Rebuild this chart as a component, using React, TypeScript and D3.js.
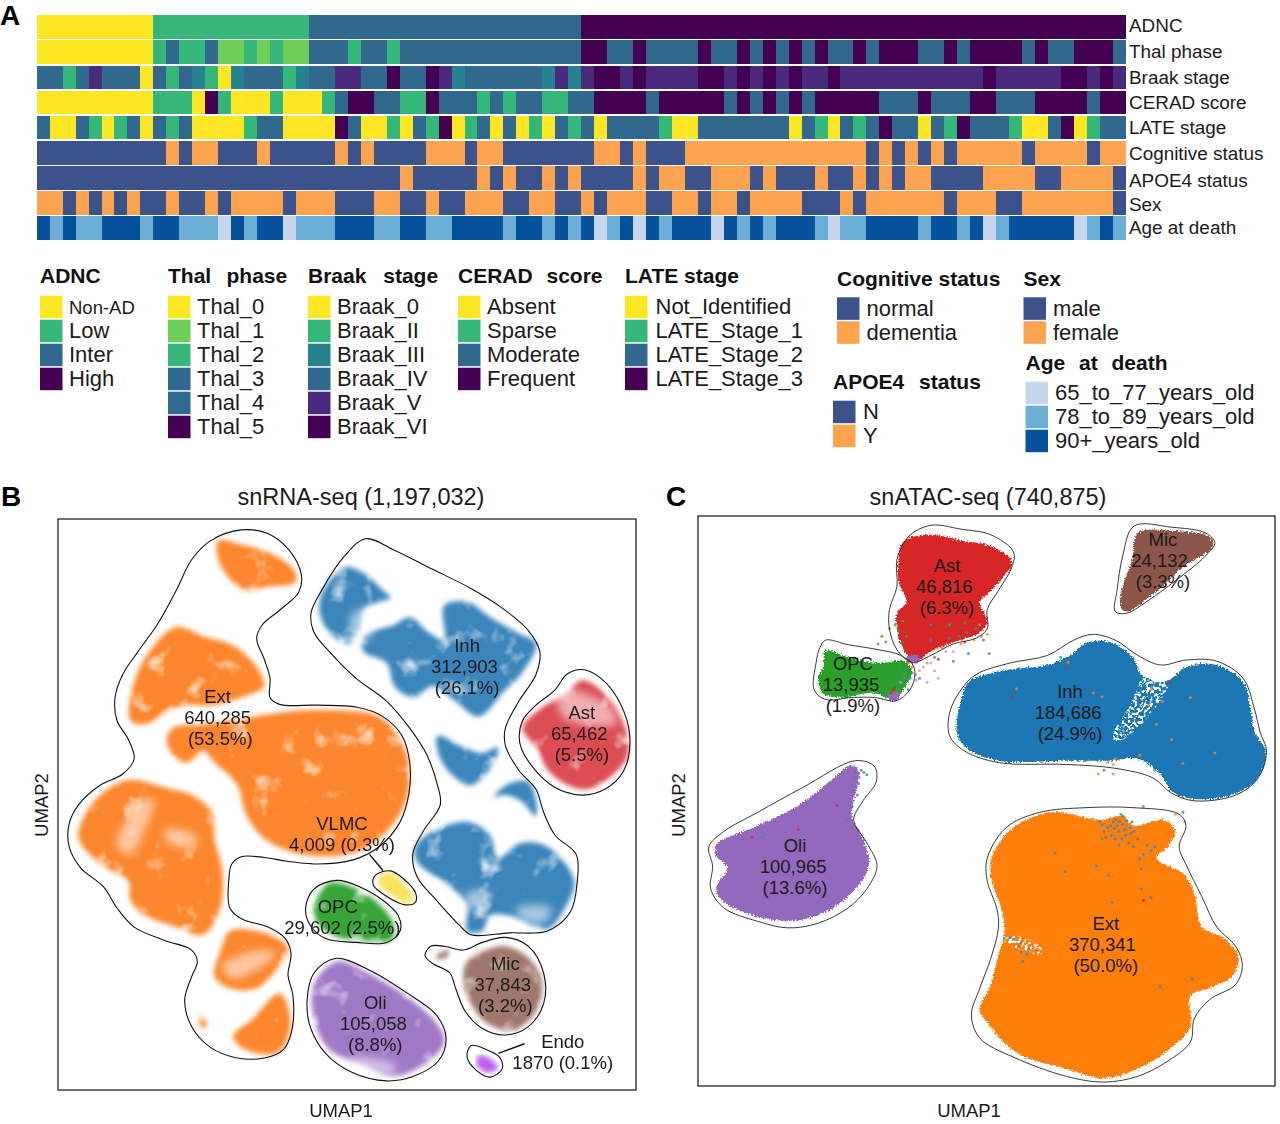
import React from 'react'
import * as d3 from 'd3'

// ---- panel A data: run lengths [level, columns], 84 donors per row
const rowNames = ['ADNC', 'Thal phase', 'Braak stage', 'CERAD score', 'LATE stage', 'Cognitive status', 'APOE4 status', 'Sex', 'Age at death']

const adncRuns = [[0, 9], [1, 12], [2, 21], [3, 42]]
const thalRuns = [[0, 9], [2, 1], [3, 1], [2, 2], [3, 1], [1, 2], [2, 1], [1, 1], [2, 1], [1, 2], [3, 3], [2, 1], [3, 2], [2, 1], [3, 14], [5, 2], [3, 2], [5, 1], [3, 4], [5, 1], [3, 2], [5, 1], [3, 1], [5, 1], [3, 1], [5, 1], [3, 1], [5, 1], [3, 2], [5, 1], [3, 1], [5, 3], [3, 2], [5, 1], [3, 1], [5, 4], [3, 1], [5, 1], [3, 2], [5, 3], [3, 1]]
const braakRuns = [[3, 2], [1, 1], [3, 1], [4, 1], [3, 3], [0, 1], [3, 1], [1, 1], [3, 1], [2, 1], [1, 1], [0, 1], [2, 1], [3, 3], [1, 1], [2, 1], [3, 2], [4, 2], [3, 2], [5, 1], [3, 2], [5, 1], [4, 1], [2, 1], [3, 6], [2, 1], [4, 1], [2, 1], [4, 1], [5, 2], [4, 1], [5, 1], [4, 4], [5, 2], [4, 1], [5, 1], [4, 1], [5, 1], [4, 1], [5, 1], [4, 2], [5, 1], [4, 11], [5, 1], [4, 5], [5, 2], [4, 1], [5, 1], [4, 1]]
const ceradRuns = [[0, 9], [1, 3], [0, 1], [3, 1], [1, 1], [0, 3], [1, 1], [0, 3], [1, 1], [2, 1], [3, 2], [2, 2], [1, 2], [3, 1], [2, 3], [1, 1], [2, 1], [1, 1], [2, 2], [1, 2], [2, 2], [3, 4], [2, 1], [3, 5], [2, 1], [3, 1], [2, 1], [3, 1], [2, 1], [3, 1], [2, 1], [3, 5], [2, 3], [3, 1], [2, 3], [3, 2], [2, 3], [3, 4], [2, 1], [3, 2]]
const lateRuns = [[2, 1], [0, 2], [2, 1], [1, 1], [0, 1], [1, 1], [2, 1], [0, 1], [2, 1], [1, 1], [2, 1], [0, 4], [1, 1], [2, 2], [0, 4], [3, 1], [2, 1], [0, 2], [1, 1], [0, 1], [2, 1], [1, 1], [3, 1], [0, 1], [1, 1], [2, 1], [0, 1], [2, 1], [0, 1], [1, 1], [0, 1], [2, 1], [1, 1], [2, 1], [0, 1], [2, 4], [1, 1], [0, 2], [2, 7], [0, 1], [2, 1], [1, 1], [0, 1], [2, 1], [1, 1], [2, 1], [3, 1], [2, 2], [0, 1], [2, 1], [1, 1], [3, 1], [2, 3], [1, 1], [0, 2], [2, 1], [3, 1], [0, 1], [1, 1], [2, 2]]
const cognitiveRuns = [[0, 10], [1, 1], [0, 1], [1, 2], [0, 3], [1, 1], [0, 5], [1, 1], [0, 1], [1, 1], [0, 4], [1, 3], [0, 1], [1, 2], [0, 7], [1, 2], [0, 1], [1, 1], [0, 3], [1, 14], [0, 1], [1, 1], [0, 1], [1, 1], [0, 1], [1, 1], [0, 1], [1, 5], [0, 1], [1, 4], [0, 1], [1, 2]]
const apoeRuns = [[0, 28], [1, 1], [0, 5], [1, 1], [0, 1], [1, 1], [0, 2], [1, 1], [0, 1], [1, 1], [0, 4], [1, 1], [0, 1], [1, 2], [0, 2], [1, 3], [0, 1], [1, 1], [0, 3], [1, 1], [0, 2], [1, 1], [0, 1], [1, 1], [0, 1], [1, 2], [0, 4], [1, 4], [0, 2], [1, 4], [0, 1]]
const sexRuns = [[1, 2], [0, 1], [1, 1], [0, 1], [1, 1], [0, 1], [1, 1], [0, 2], [1, 1], [0, 2], [1, 1], [0, 1], [1, 4], [0, 1], [1, 3], [0, 3], [1, 2], [0, 2], [1, 1], [0, 2], [1, 3], [0, 2], [1, 2], [0, 2], [1, 1], [0, 1], [1, 3], [0, 2], [1, 2], [0, 1], [1, 2], [0, 1], [1, 4], [0, 3], [1, 1], [0, 1], [1, 6], [0, 1], [1, 3], [0, 2], [1, 7], [0, 1]]
const ageRuns = [[2, 1], [1, 1], [2, 1], [1, 2], [2, 3], [1, 1], [2, 2], [1, 3], [0, 1], [2, 1], [1, 1], [2, 2], [0, 1], [1, 3], [2, 3], [1, 2], [2, 2], [1, 2], [2, 4], [1, 1], [2, 2], [1, 1], [2, 1], [1, 1], [2, 1], [0, 1], [1, 1], [2, 1], [0, 1], [2, 1], [1, 1], [2, 3], [0, 1], [2, 1], [1, 1], [2, 1], [1, 1], [2, 3], [1, 1], [0, 1], [1, 2], [2, 4], [1, 1], [2, 2], [1, 1], [2, 1], [0, 1], [1, 1], [2, 5], [0, 1], [1, 1], [2, 1], [1, 1]]

// ---- palettes
const YEL = '#fde725', GRN = '#35b779', BLU = '#31688e', DRK = '#440154', NAVY = '#3b528b', ORG = '#fea34f'
const adncColors = [YEL, GRN, BLU, DRK]
const thalColors = [YEL, '#6ece58', GRN, BLU, '#2f6b8e', DRK]
const braakColors = [YEL, GRN, '#26828e', BLU, '#4a2a7c', DRK]
const binaryColors = [NAVY, ORG]
const ageColors = ['#c6d6ee', '#6baed6', '#08519c']

const rowRuns = [adncRuns, thalRuns, braakRuns, ceradRuns, lateRuns, cognitiveRuns, apoeRuns, sexRuns, ageRuns]
const rowColors = [adncColors, thalColors, braakColors, adncColors, adncColors, binaryColors, binaryColors, binaryColors, ageColors]
const rowLabelNudge = [-1.5, -1, 0, 0, 0, 1, 2.5, 1.5, -0.5]

// ---- legends
const adncLabels = ['Non-AD', 'Low', 'Inter', 'High']
const thalLabels = ['Thal_0', 'Thal_1', 'Thal_2', 'Thal_3', 'Thal_4', 'Thal_5']
const braakLabels = ['Braak_0', 'Braak_II', 'Braak_III', 'Braak_IV', 'Braak_V', 'Braak_VI']
const ceradLabels = ['Absent', 'Sparse', 'Moderate', 'Frequent']
const lateLabels = ['Not_Identified', 'LATE_Stage_1', 'LATE_Stage_2', 'LATE_Stage_3']
const cognitiveLabels = ['normal', 'dementia']
const sexLabels = ['male', 'female']
const apoeLabels = ['N', 'Y']
const ageLabels = ['65_to_77_years_old', '78_to_89_years_old', '90+_years_old']

const legends = [
  { title: 'ADNC', labels: adncLabels, colors: adncColors, x: 40, tx: 69, ty: 283, top: 295.7, ws: 0 },
  { title: 'Thal phase', labels: thalLabels, colors: thalColors, x: 168, tx: 197, ty: 283, top: 295.7, ws: 9.5 },
  { title: 'Braak stage', labels: braakLabels, colors: braakColors, x: 308, tx: 337, ty: 283, top: 295.7, ws: 11 },
  { title: 'CERAD score', labels: ceradLabels, colors: adncColors, x: 458, tx: 487, ty: 283, top: 295.7, ws: 8 },
  { title: 'LATE stage', labels: lateLabels, colors: adncColors, x: 625, tx: 655.5, ty: 283, top: 295.7, ws: 0 },
  { title: 'Cognitive status', labels: cognitiveLabels, colors: binaryColors, x: 837, tx: 866.5, ty: 285.5, top: 297.3, ws: 0 },
  { title: 'Sex', labels: sexLabels, colors: binaryColors, x: 1023.5, tx: 1053, ty: 285.5, top: 297.3, ws: 0 },
  { title: 'APOE4 status', labels: apoeLabels, colors: binaryColors, x: 833, tx: 863, ty: 389, top: 400.7, ws: 9 },
  { title: 'Age at death', labels: ageLabels, colors: ageColors, x: 1025.5, tx: 1055, ty: 370, top: 381.7, ws: 8 },
]

// ---- panel B, snRNA-seq: outlines and density areas in UMAP units
const extOutlineB = [[500, 52], [570, 62], [625, 105], [657, 170], [650, 215], [600, 262], [555, 300], [540, 335], [560, 390], [575, 440], [575, 490], [600, 508], [700, 510], [800, 515], [870, 540], [920, 590], [940, 660], [938, 740], [915, 815], [860, 880], [790, 915], [700, 925], [620, 918], [560, 908], [500, 906], [475, 925], [467, 970], [470, 1040], [500, 1068], [570, 1090], [615, 1120], [630, 1160], [622, 1215], [635, 1270], [632, 1360], [610, 1410], [560, 1432], [490, 1432], [420, 1405], [370, 1350], [352, 1280], [370, 1220], [385, 1180], [370, 1150], [300, 1125], [220, 1090], [175, 1040], [140, 985], [80, 935], [50, 880], [50, 820], [75, 770], [130, 720], [190, 690], [220, 650], [205, 600], [175, 550], [170, 490], [190, 430], [230, 370], [280, 300], [330, 210], [370, 130], [420, 80]]
const inhOutlineB = [[825, 75], [900, 105], [1000, 155], [1100, 205], [1180, 255], [1250, 315], [1280, 370], [1270, 430], [1225, 500], [1190, 570], [1190, 615], [1225, 680], [1270, 730], [1290, 790], [1320, 850], [1375, 900], [1378, 970], [1360, 1050], [1300, 1100], [1200, 1105], [1100, 1110], [1070, 1085], [1010, 1020], [960, 960], [948, 900], [975, 840], [1020, 770], [1010, 710], [985, 640], [940, 570], [880, 500], [800, 440], [730, 370], [690, 320], [682, 270], [710, 210], [770, 120]]
const astOutlineB = [[1390, 417], [1440, 440], [1490, 505], [1515, 590], [1500, 680], [1450, 730], [1390, 745], [1320, 725], [1260, 670], [1228, 610], [1235, 550], [1270, 510], [1320, 470], [1350, 430]]
const vlmcOutlineB = [[890, 943], [925, 965], [955, 1000], [955, 1025], [930, 1032], [880, 1010], [845, 980], [850, 955]]
const opcOutlineB = [[750, 968], [810, 985], [870, 1020], [910, 1060], [915, 1100], [880, 1130], [800, 1130], [720, 1120], [680, 1085], [668, 1040], [690, 990]]
const oliOutlineB = [[745, 1172], [830, 1200], [930, 1260], [1010, 1320], [1035, 1380], [1015, 1440], [950, 1480], [880, 1492], [790, 1470], [720, 1420], [680, 1350], [672, 1280], [690, 1210]]
const micOutlineB = [[1190, 1117], [1250, 1140], [1290, 1210], [1290, 1290], [1250, 1350], [1190, 1372], [1130, 1355], [1085, 1310], [1060, 1250], [1045, 1210], [1000, 1185], [980, 1165], [995, 1140], [1030, 1140], [1080, 1150], [1130, 1130]]
const endoOutlineB = [[1100, 1400], [1140, 1410], [1175, 1430], [1182, 1460], [1150, 1482], [1115, 1465], [1090, 1430]]

const extAreasB = [
  [[440, 80], [500, 90], [580, 115], [640, 160], [640, 190], [570, 200], [510, 212], [470, 180], [440, 130]],
  [[330, 305], [400, 330], [480, 355], [540, 410], [560, 460], [500, 490], [420, 510], [350, 510], [300, 530], [250, 560], [210, 550], [220, 450], [260, 370]],
  [[320, 570], [400, 560], [530, 540], [640, 525], [780, 525], [860, 540], [915, 600], [940, 680], [930, 760], [890, 830], [810, 890], [720, 905], [620, 890], [550, 850], [510, 790], [490, 720], [430, 660], [400, 630], [360, 660], [330, 650], [305, 605]],
  [[210, 705], [300, 725], [370, 745], [425, 790], [430, 860], [450, 940], [445, 1040], [400, 1110], [330, 1090], [250, 1060], [210, 1020], [205, 970], [140, 930], [75, 860], [95, 790], [150, 730]],
  [[470, 1100], [560, 1105], [622, 1145], [600, 1190], [540, 1250], [470, 1250], [430, 1220], [450, 1140]],
  [[600, 1262], [625, 1310], [622, 1380], [590, 1420], [510, 1410], [478, 1375], [530, 1330]],
  [[395, 1320], [410, 1345], [400, 1355], [390, 1335]],
]
const inhAreasB = [
  [[770, 150], [820, 165], [870, 210], [890, 230], [860, 240], [820, 260], [810, 310], [780, 350], [730, 320], [705, 270], [710, 220]],
  [[820, 330], [900, 300], [940, 280], [990, 320], [1030, 340], [1030, 250], [1090, 240], [1150, 280], [1220, 320], [1270, 350], [1230, 430], [1190, 470], [1120, 540], [1060, 500], [1000, 460], [950, 490], [900, 460], [880, 400], [820, 370]],
  [[1012, 590], [1080, 620], [1130, 635], [1170, 620], [1160, 660], [1100, 720], [1060, 700], [1020, 650]],
  [[1160, 750], [1200, 715], [1250, 710], [1270, 760], [1270, 800], [1230, 760], [1190, 745]],
  [[1000, 840], [1090, 815], [1150, 850], [1170, 910], [1230, 870], [1300, 880], [1370, 970], [1340, 1050], [1300, 1095], [1200, 1060], [1150, 1060], [1130, 1100], [1090, 1100], [1090, 1030], [1040, 980], [960, 920], [955, 880]],
]
const astAreasB = [[[1390, 445], [1450, 480], [1500, 560], [1510, 640], [1450, 710], [1390, 730], [1310, 690], [1270, 620], [1235, 570], [1280, 520], [1350, 480]]]
const vlmcAreasB = [[[885, 945], [920, 970], [950, 1010], [940, 1030], [890, 1005], [860, 980], [860, 960]]]
const opcAreasB = [[[730, 975], [800, 990], [870, 1040], [900, 1090], [890, 1125], [820, 1125], [750, 1115], [700, 1080], [690, 1040]]]
const oliAreasB = [[[750, 1180], [830, 1210], [930, 1270], [1010, 1340], [1030, 1390], [990, 1440], [900, 1480], [820, 1450], [730, 1410], [690, 1330], [690, 1240]]]
const micAreasB = [[[1190, 1140], [1250, 1170], [1285, 1230], [1270, 1310], [1210, 1360], [1140, 1340], [1100, 1290], [1080, 1230], [1090, 1180], [1140, 1150]], [[1010, 1165], [1040, 1150], [1040, 1165], [1015, 1175]]]
const endoAreasB = [[[1120, 1425], [1160, 1440], [1170, 1460], [1140, 1470], [1115, 1450]]]

// pale streaks inside the density areas
const palePatchesB = [
  [[235, 760], [270, 755], [250, 830], [210, 900], [175, 880], [205, 800]],
  [[300, 835], [380, 850], [380, 880], [310, 870]],
  [[450, 1190], [560, 1150], [590, 1160], [480, 1225]],
  [[1330, 470], [1460, 510], [1480, 560], [1340, 540]],
  [[790, 270], [850, 260], [830, 340], [790, 340]],
  [[1090, 1000], [1150, 1000], [1130, 1040], [1090, 1040]],
  [[1220, 1040], [1310, 1040], [1290, 1080], [1230, 1070]],
  [[780, 1430], [900, 1450], [900, 1475], [800, 1450]],
]

const groupsB = [
  { areas: extAreasB, outline: extOutlineB, color: '#fb8022', opacity: 0.95 },
  { areas: inhAreasB, outline: inhOutlineB, color: '#2b7bb5', opacity: 0.92 },
  { areas: astAreasB, outline: astOutlineB, color: '#d8343c', opacity: 0.88 },
  { areas: vlmcAreasB, outline: vlmcOutlineB, color: '#f9e04e', opacity: 0.9 },
  { areas: opcAreasB, outline: opcOutlineB, color: '#2ca02c', opacity: 0.95 },
  { areas: oliAreasB, outline: oliOutlineB, color: '#9467bd', opacity: 0.88 },
  { areas: micAreasB, outline: micOutlineB, color: '#8c5a4c', opacity: 0.82 },
  { areas: endoAreasB, outline: endoOutlineB, color: '#bb55ee', opacity: 0.95 },
]

const labelsB = [
  { lines: ['Ext', '640,285', '(53.5%)'], x: [438, 438, 445], y: 505 },
  { lines: ['Inh', '312,903', '(26.1%)'], x: [1090, 1083, 1090], y: 372 },
  { lines: ['Ast', '65,462', '(5.5%)'], x: [1390, 1383, 1390], y: 545 },
  { lines: ['VLMC', '4,009 (0.3%)'], x: [763, 763], y: 835 },
  { lines: ['OPC', '29,602 (2.5%)'], x: [752, 764], y: 1052 },
  { lines: ['Mic', '37,843', '(3.2%)'], x: [1190, 1183, 1190], y: 1202 },
  { lines: ['Oli', '105,058', '(8.8%)'], x: [850, 845, 850], y: 1305 },
  { lines: ['Endo', '1870 (0.1%)'], x: [1340, 1340], y: 1405 },
]
const leadersB = [[[835, 900], [870, 942]], [[1172, 1420], [1240, 1395]]]

// ---- panel C, snATAC-seq
const astOutlineC = [[640, 40], [720, 50], [800, 65], [860, 110], [855, 150], [820, 210], [790, 260], [790, 310], [760, 335], [700, 350], [640, 380], [590, 398], [550, 365], [530, 310], [530, 260], [550, 200], [550, 130], [580, 70]]
const opcOutlineC = [[360, 340], [420, 352], [500, 365], [560, 380], [595, 410], [590, 460], [550, 498], [490, 490], [430, 490], [360, 495], [330, 470], [335, 400], [345, 360]]
const micOutlineC = [[1180, 42], [1280, 45], [1370, 60], [1395, 85], [1370, 120], [1290, 185], [1220, 235], [1160, 270], [1130, 265], [1135, 210], [1150, 120]]
const inhOutlineC = [[1070, 325], [1130, 340], [1190, 380], [1250, 405], [1320, 392], [1400, 395], [1470, 440], [1500, 520], [1515, 580], [1532, 630], [1510, 700], [1450, 745], [1340, 760], [1280, 740], [1230, 700], [1130, 675], [1000, 665], [820, 660], [730, 630], [690, 590], [690, 530], [720, 470], [760, 430], [850, 400], [950, 380], [1020, 340]]
const oliOutlineC = [[440, 655], [490, 670], [495, 710], [460, 760], [435, 810], [470, 870], [497, 930], [470, 990], [420, 1040], [340, 1080], [260, 1092], [180, 1075], [90, 1040], [55, 990], [60, 930], [50, 880], [90, 840], [180, 790], [300, 725]]
const extOutlineC = [[1050, 778], [1180, 778], [1300, 795], [1318, 825], [1300, 880], [1320, 930], [1360, 1010], [1400, 1090], [1450, 1140], [1468, 1190], [1450, 1240], [1380, 1280], [1340, 1330], [1330, 1390], [1270, 1440], [1190, 1480], [1100, 1495], [1000, 1480], [860, 1430], [770, 1380], [748, 1320], [770, 1250], [800, 1170], [820, 1090], [815, 1040], [790, 970], [790, 910], [840, 830], [930, 790]]

const astAreaC = [[570, 80], [640, 65], [720, 80], [800, 95], [855, 135], [820, 190], [790, 220], [770, 240], [790, 290], [770, 320], [700, 345], [640, 370], [595, 395], [560, 350], [550, 310], [550, 270], [575, 240], [555, 190], [555, 120]]
const opcAreaC = [[360, 368], [420, 385], [500, 400], [570, 395], [590, 420], [570, 465], [540, 495], [490, 478], [400, 490], [355, 480], [340, 440], [355, 410]]
const micAreaC = [[1190, 60], [1290, 55], [1380, 70], [1390, 95], [1310, 150], [1230, 220], [1160, 265], [1145, 255], [1150, 200], [1175, 130]]
const inhAreaC = [[1060, 345], [1130, 350], [1180, 390], [1200, 430], [1260, 450], [1320, 410], [1400, 405], [1470, 450], [1490, 520], [1500, 580], [1530, 630], [1510, 700], [1440, 745], [1340, 755], [1280, 735], [1250, 690], [1190, 650], [1120, 655], [1000, 655], [820, 655], [740, 625], [710, 585], [720, 500], [740, 450], [830, 420], [950, 405], [1010, 380]]
const oliAreaC = [[430, 668], [450, 685], [440, 740], [430, 800], [460, 860], [475, 930], [440, 990], [380, 1040], [300, 1070], [230, 1072], [140, 1050], [80, 1015], [70, 985], [100, 935], [70, 905], [70, 875], [180, 825], [300, 765], [370, 710]]
const extAreaC = [[960, 790], [1090, 810], [1150, 800], [1180, 825], [1260, 810], [1290, 840], [1270, 880], [1240, 910], [1310, 950], [1340, 1000], [1360, 1090], [1420, 1120], [1458, 1170], [1440, 1220], [1380, 1250], [1330, 1270], [1330, 1350], [1260, 1420], [1190, 1460], [1100, 1485], [1000, 1460], [870, 1420], [790, 1340], [770, 1305], [800, 1240], [820, 1160], [835, 1110], [830, 1050], [800, 960], [805, 900], [860, 830]]

const inhGapC = [[1205, 440], [1270, 452], [1255, 490], [1190, 570], [1130, 608], [1125, 585], [1170, 510]]
const extGapC = [[830, 1122], [880, 1115], [935, 1145], [935, 1160], [880, 1150]]
const purplePatchesC = [[[575, 385], [605, 380], [610, 395], [590, 400]], [[525, 482], [555, 475], [550, 498], [530, 497]]]

const areasC = [
  { area: extAreaC, outline: extOutlineC, color: '#ff7f0e' },
  { area: inhAreaC, outline: inhOutlineC, color: '#1f77b4' },
  { area: astAreaC, outline: astOutlineC, color: '#d62728' },
  { area: opcAreaC, outline: opcOutlineC, color: '#2ca02c' },
  { area: oliAreaC, outline: oliOutlineC, color: '#9467bd' },
  { area: micAreaC, outline: micOutlineC, color: '#8c564b' },
]

const strayBlueC = [[1095, 822], [1110, 830], [1125, 815], [1135, 825], [1150, 800], [1160, 812], [1170, 830], [1140, 840], [1120, 850], [1105, 855], [1180, 840], [1190, 860], [1165, 870], [1140, 875], [1215, 875], [1235, 880], [1195, 912], [1200, 938], [1080, 930], [1112, 955], [997, 945], [970, 897], [1122, 1025], [1200, 990], [1225, 1012], [1250, 1245], [1335, 1225], [1145, 795], [1128, 832], [1155, 835], [1100, 840], [1175, 815], [1132, 808], [1142, 815], [1118, 825], [1150, 822], [1163, 825], [1172, 845], [1158, 850], [1148, 860], [1130, 860], [1178, 880], [1205, 900], [1225, 890], [1088, 815], [835, 1120], [860, 1122], [880, 1130], [900, 1145], [885, 1180], [920, 1150], [880, 1155], [850, 1118], [872, 1140], [895, 1160], [440, 685], [455, 680], [470, 692], [430, 720], [445, 745], [430, 775], [420, 810], [190, 855], [195, 845], [430, 830], [437, 700], [448, 715], [432, 735], [462, 686], [1205, 775], [1310, 790], [735, 320], [690, 335], [640, 300], [780, 340], [610, 440], [570, 440], [560, 420], [580, 470], [650, 385], [700, 395], [740, 375], [795, 375], [1100, 680], [1235, 680], [985, 385], [575, 415], [585, 440], [555, 450], [590, 425], [715, 330], [690, 300], [760, 310], [640, 340]]
const strayOrangeC = [[868, 467], [1330, 490], [1395, 635], [1310, 662], [1195, 640], [1280, 600], [1072, 478], [1095, 488], [1110, 660], [1125, 665], [1085, 690], [1130, 650], [1240, 560], [1220, 510], [1005, 398], [1225, 470], [1255, 500], [770, 300], [790, 325], [630, 400], [600, 430], [720, 350], [670, 360], [1125, 690], [1290, 795], [1315, 815], [1165, 825], [1185, 830], [1200, 880], [775, 330], [755, 340], [580, 400], [590, 410]]
const strayGreenC = [[510, 330], [530, 310], [545, 300], [565, 290], [575, 330], [500, 350], [1095, 860], [690, 300], [730, 295], [520, 345], [555, 315], [565, 345], [570, 430], [550, 470]]
const strayRedC = [[858, 490], [1000, 410], [1275, 452], [390, 772], [288, 835], [165, 855], [540, 470], [600, 365], [660, 390], [730, 345], [1205, 1020], [620, 380], [640, 365], [580, 395], [535, 478], [545, 465]]
const strayPurpleC = [[620, 410], [650, 420], [600, 445], [630, 450], [680, 370], [450, 700], [560, 450], [600, 400], [610, 420], [640, 400], [700, 370], [660, 440]]
const strayPoints = [
  { points: strayBlueC, color: '#3c86b8' },
  { points: strayOrangeC, color: '#f58a2c' },
  { points: strayGreenC, color: '#3aa83a' },
  { points: strayRedC, color: '#d62728' },
  { points: strayPurpleC, color: '#c695d0' },
]

const labelsC = [
  { lines: ['Ast', '46,816', '(6.3%)'], x: [683, 676, 683], y: 162 },
  { lines: ['Mic', '24,132', '(3.3%)'], x: [1257, 1248, 1257], y: 93 },
  { lines: ['OPC', '13,935', '(1.9%)'], x: [433, 428, 433], y: 417 },
  { lines: ['Inh', '184,686', '(24.9%)'], x: [1010, 1005, 1010], y: 490 },
  { lines: ['Oli', '100,965', '(13.6%)'], x: [279, 274, 279], y: 893 },
  { lines: ['Ext', '370,341', '(50.0%)'], x: [1105, 1096, 1105], y: 1097 },
]

// ---- layout
const FONT = '"Liberation Sans", Arial, sans-serif'
const INK = '#1c1a1b'

const expandRuns = (runs: number[][]) => runs.flatMap(([level, n]) => d3.range(n).map(() => level))

const xCol = d3.scaleBand<number>().domain(d3.range(84)).range([36.7, 1125.7])
const yRow = d3.scaleBand<string>().domain(rowNames).range([15.3, 240]).paddingInner(0.06)

const xB = d3.scaleLinear().domain([0, 1568]).range([50, 650])
const yB = d3.scaleLinear().domain([0, 1568]).range([510, 1110])
const xC = d3.scaleLinear().domain([0, 1568]).range([690, 1280])
const yC = d3.scaleLinear().domain([0, 1568]).range([510, 1110])

const blobB = d3.line<number[]>().x(d => xB(d[0])).y(d => yB(d[1])).curve(d3.curveCatmullRomClosed.alpha(0.5))
const blobC = d3.line<number[]>().x(d => xC(d[0])).y(d => yC(d[1])).curve(d3.curveCatmullRomClosed.alpha(0.5))

const Labels = ({ items, sx, sy }: { items: typeof labelsB; sx: d3.ScaleLinear<number, number>; sy: d3.ScaleLinear<number, number> }) => (
  <g fontSize={18.5} fill={INK} textAnchor="middle">
    {items.flatMap(item =>
      item.lines.map((line, i) => (
        <text key={item.lines[0] + i} x={sx(item.x[i])} y={sy(item.y + i * 55)}>{line}</text>
      ))
    )}
  </g>
)

export default function App() {
  return (
    <svg width={1280} height={1124} viewBox="0 0 1280 1124" fontFamily={FONT}
      style={{ position: 'absolute', left: 0, top: 0, display: 'block', background: '#fff' }}>
      <defs>
        <filter id="density" x="-5%" y="-5%" width="110%" height="110%" colorInterpolationFilters="sRGB">
          <feGaussianBlur in="SourceGraphic" stdDeviation="2.4" result="soft" />
          <feTurbulence type="fractalNoise" baseFrequency="0.04" numOctaves="3" seed="4" result="noise" />
          <feColorMatrix in="noise" type="matrix" values="0 0 0 0 0  0 0 0 0 0  0 0 0 0 0  2.4 0 0 0 0.02" result="mask" />
          <feComposite in="soft" in2="mask" operator="in" />
        </filter>
        <filter id="softPatch" x="-30%" y="-30%" width="160%" height="160%">
          <feGaussianBlur stdDeviation="4" />
        </filter>
        <filter id="grain" x="-3%" y="-3%" width="106%" height="106%">
          <feTurbulence type="fractalNoise" baseFrequency="0.6" numOctaves="2" seed="7" result="n" />
          <feDisplacementMap in="SourceGraphic" in2="n" scale="5" xChannelSelector="R" yChannelSelector="G" />
        </filter>
        <filter id="grainWide" x="-20%" y="-20%" width="140%" height="140%">
          <feTurbulence type="fractalNoise" baseFrequency="0.32" numOctaves="2" seed="11" result="n" />
          <feColorMatrix in="n" type="matrix" values="0 0 0 0 1  0 0 0 0 1  0 0 0 0 1  9 0 0 0 -4.4" result="m" />
          <feComposite in="SourceGraphic" in2="m" operator="in" />
        </filter>
      </defs>

      {/* A: clinical annotation heatmap */}
      <g shapeRendering="crispEdges">
        {rowNames.map((name, r) =>
          expandRuns(rowRuns[r]).map((level, c) => (
            <rect key={name + c} x={xCol(c)} y={yRow(name)} width={xCol.bandwidth() + 0.4} height={yRow.bandwidth()}
              fill={rowColors[r][level]} />
          ))
        )}
      </g>
      <g fontSize={18.9} fill={INK}>
        {rowNames.map((name, r) => (
          <text key={name} x={1129} y={yRow(name)! + yRow.bandwidth() / 2 + 6.5 + rowLabelNudge[r]}>{name}</text>
        ))}
      </g>

      {legends.map(l => (
        <g key={l.title}>
          <text x={l.x} y={l.ty} fontSize={21} fontWeight={700} fill="#111" wordSpacing={l.ws}>{l.title}</text>
          {l.labels.map((label, i) => (
            <g key={label}>
              <rect x={l.x} y={l.top + i * 24} width={22.5} height={22.5} fill={l.colors[i]} />
              <text x={l.tx} y={l.top + i * 24 + 18.6} fontSize={label === 'Non-AD' ? 18.5 : 22} fill={INK}>{label}</text>
            </g>
          ))}
        </g>
      ))}

      <g fontSize={28} fontWeight={700} fill="#000">
        <text x={0} y={25}>A</text>
        <text x={1} y={506}>B</text>
        <text x={666} y={506}>C</text>
      </g>

      {/* B: snRNA-seq UMAP */}
      <text x={361} y={505} fontSize={23.5} textAnchor="middle" fill={INK}>snRNA-seq (1,197,032)</text>
      {groupsB.map((g, i) => (
        <g key={i} filter="url(#density)" opacity={g.opacity}>
          {g.areas.map((a, j) => <path key={j} d={blobB(a as number[][])!} fill={g.color} />)}
        </g>
      ))}
      <g filter="url(#softPatch)">
        {palePatchesB.map((p, i) => <path key={i} d={blobB(p as number[][])!} fill="#fff" opacity={0.55} />)}
      </g>
      <g fill="none" stroke="#111" strokeWidth={1.1}>
        {groupsB.map((g, i) => <path key={i} d={blobB(g.outline as number[][])!} />)}
        {leadersB.map((seg, i) => (
          <line key={i} x1={xB(seg[0][0])} y1={yB(seg[0][1])} x2={xB(seg[1][0])} y2={yB(seg[1][1])} strokeWidth={1.5} />
        ))}
      </g>
      <Labels items={labelsB} sx={xB} sy={yB} />
      <rect x={58} y={519} width={578} height={571} fill="none" stroke="#222" strokeWidth={1.3} />
      <text x={341} y={1117} fontSize={18.5} textAnchor="middle" fill={INK}>UMAP1</text>
      <text transform="translate(48,805) rotate(-90)" fontSize={18.5} textAnchor="middle" fill={INK}>UMAP2</text>

      {/* C: snATAC-seq UMAP */}
      <text x={988} y={505} fontSize={23.5} textAnchor="middle" fill={INK}>snATAC-seq (740,875)</text>
      <g filter="url(#grain)">
        {areasC.map((g, i) => <path key={i} d={blobC(g.area as number[][])!} fill={g.color} />)}
        {purplePatchesC.map((p, i) => <path key={i} d={blobC(p as number[][])!} fill="#9467bd" />)}
      </g>
      <g filter="url(#grainWide)">
        <path d={blobC(inhGapC as number[][])!} fill="#fff" />
        <path d={blobC(extGapC as number[][])!} fill="#fff" />
      </g>
      {strayPoints.map(s => (
        <g key={s.color} fill={s.color} opacity={0.8}>
          {s.points.map((p, i) => <circle key={i} cx={xC(p[0])} cy={yC(p[1])} r={1.5} />)}
        </g>
      ))}
      <g fill="none" stroke="#222" strokeWidth={0.9}>
        {areasC.map((g, i) => <path key={i} d={blobC(g.outline as number[][])!} />)}
      </g>
      <Labels items={labelsC} sx={xC} sy={yC} />
      <rect x={698} y={516} width={577} height={570} fill="none" stroke="#222" strokeWidth={1.3} />
      <text x={969} y={1117} fontSize={18.5} textAnchor="middle" fill={INK}>UMAP1</text>
      <text transform="translate(685,805) rotate(-90)" fontSize={18.5} textAnchor="middle" fill={INK}>UMAP2</text>
    </svg>
  )
}
